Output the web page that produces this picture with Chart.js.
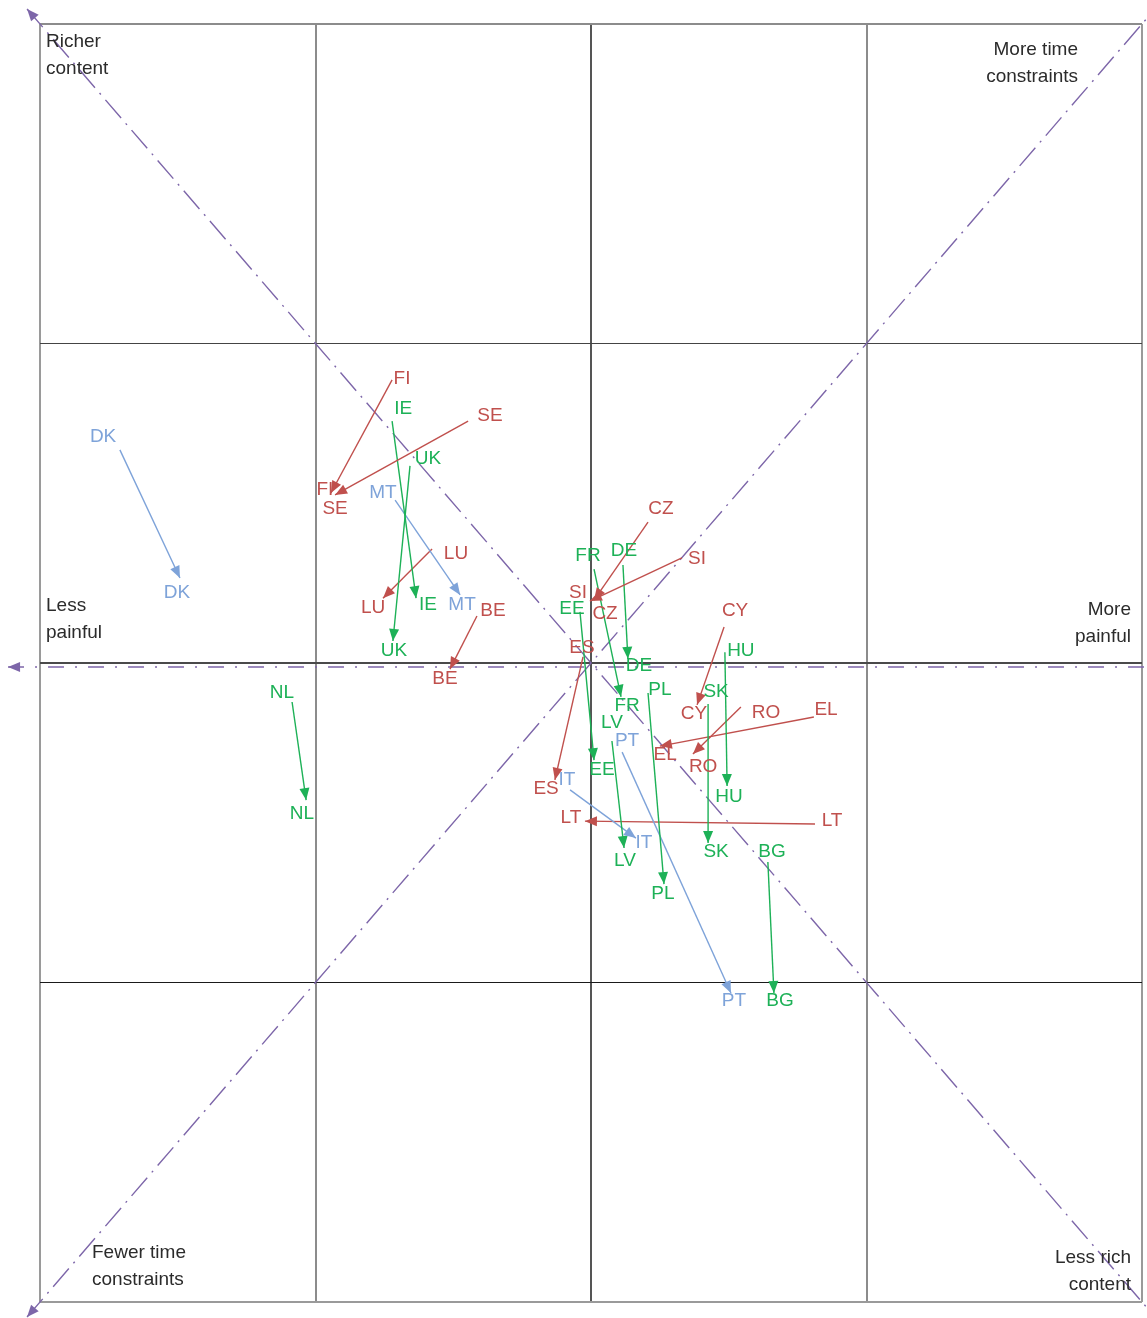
<!DOCTYPE html>
<html><head><meta charset="utf-8">
<style>html,body{margin:0;padding:0;background:#fff;}#wrap{width:1147px;height:1318px;position:relative;}</style>
<script src="https://cdn.jsdelivr.net/npm/chart.js@4.4.0/dist/chart.umd.min.js"></script>
</head><body><div id="wrap"><canvas id="c"></canvas></div>
<script>
// ---- data ----
const countries = ['DK','FI','SE','IE','UK','MT','LU','BE','CZ','SI','FR','DE','EE','ES','CY','HU','SK','PL','RO','EL','LV','PT','IT','LT','BG','NL'];
const groups    = ['B','R','R','G','G','B','R','R','R','R','G','G','G','R','R','G','G','G','R','R','G','B','B','R','G','G'];
const startX = [-1.710,-0.722,-0.446,-0.722,-0.657,-0.711,-0.577,-0.414,0.207,0.330,0.011,0.116,-0.040,-0.029,0.483,0.486,0.425,0.207,0.544,0.809,0.076,0.113,-0.076,0.813,0.642,-1.085];
const startY = [0.667,0.886,0.757,0.757,0.617,0.510,0.357,0.147,0.441,0.329,0.294,0.307,0.160,0.019,0.113,0.034,-0.128,-0.094,-0.138,-0.169,-0.244,-0.279,-0.397,-0.504,-0.623,-0.122];
const endX   = [-1.492,-0.944,-0.929,-0.635,-0.719,-0.475,-0.755,-0.512,0.011,-0.004,0.109,0.134,0.011,-0.131,0.385,0.494,0.425,0.265,0.370,0.250,0.120,0.508,0.163,-0.022,0.664,-1.034];
const endY   = [0.266,0.532,0.526,0.203,0.069,0.213,0.203,-0.019,0.197,0.194,-0.106,0.013,-0.304,-0.366,-0.131,-0.385,-0.563,-0.692,-0.285,-0.260,-0.579,-1.033,-0.548,-0.495,-1.033,-0.429];
const startLabelX = [-1.771,-0.686,-0.367,-0.682,-0.592,-0.755,-0.490,-0.356,0.254,0.385,-0.011,0.120,-0.069,-0.033,0.523,0.544,0.454,0.250,0.635,0.853,0.076,0.131,-0.087,0.875,0.657,-1.122];
const startLabelY = [0.707,0.889,0.773,0.795,0.638,0.532,0.341,0.163,0.482,0.326,0.335,0.351,0.169,0.047,0.163,0.038,-0.091,-0.085,-0.156,-0.147,-0.188,-0.244,-0.366,-0.495,-0.592,-0.094];
const endLabelX = [-1.503,-0.966,-0.929,-0.592,-0.715,-0.468,-0.791,-0.530,0.051,-0.047,0.131,0.174,0.040,-0.163,0.374,0.501,0.454,0.261,0.407,0.269,0.123,0.519,0.192,-0.073,0.686,-1.049];
const endLabelY = [0.219,0.541,0.482,0.182,0.038,0.182,0.172,-0.050,0.153,0.219,-0.135,-0.009,-0.335,-0.394,-0.160,-0.419,-0.592,-0.723,-0.326,-0.288,-0.620,-1.058,-0.563,-0.485,-1.058,-0.473];
// reference (dash-dot) axes, arrow at first point
const diagDown = [[-2.047,2.047],[2.02,-2.02]];
const diagUp   = [[-2.047,-2.047],[2.02,2.02]];
const axisH    = [[-2.116,-0.0125],[2.02,-0.0125]];
const gridTicks = [-2,-1,0,1,2];

// ---- styles ----
const groupColor = {R:'#c0504d', G:'#1db157', B:'#7ea3d9'};
const purple = '#7d66a9';
const FONT = '"Liberation Sans", Arial, Helvetica, sans-serif';

const datasets = [];
countries.forEach((c,i)=>{
  datasets.push({
    label:c, data:[{x:startX[i],y:startY[i]},{x:endX[i],y:endY[i]}],
    showLine:true, borderColor:groupColor[groups[i]], backgroundColor:groupColor[groups[i]],
    borderWidth:1.4, pointRadius:0, tension:0, clip:false, order:0,
    arrow:'end', arrowLen:12, arrowWidth:5
  });
});
[[diagDown,[24,7,2,7]],[diagUp,[24,7,2,7]],[axisH,[16,11,2,11]]].forEach(([pts,dash])=>{
  datasets.push({
    label:'ref', data:pts.map(p=>({x:p[0],y:p[1]})), showLine:true,
    borderColor:purple, borderWidth:1.4, borderDash:dash, pointRadius:0, tension:0,
    clip:false, order:10, arrow:'start', arrowLen:12, arrowWidth:5
  });
});

const arrowPlugin = {
  id:'arrows',
  afterDatasetsDraw(chart){
    const ctx = chart.ctx;
    chart.data.datasets.forEach((ds,i)=>{
      if(!ds.arrow) return;
      const pts = chart.getDatasetMeta(i).data;
      let tip, from;
      if(ds.arrow==='end'){tip=pts[pts.length-1];from=pts[0];} else {tip=pts[0];from=pts[pts.length-1];}
      const a = Math.atan2(tip.y-from.y, tip.x-from.x);
      const L = ds.arrowLen, W = ds.arrowWidth;
      const bx = tip.x-L*Math.cos(a), by = tip.y-L*Math.sin(a);
      ctx.save();
      ctx.fillStyle = ds.borderColor;
      ctx.beginPath();
      ctx.moveTo(tip.x,tip.y);
      ctx.lineTo(bx+W*Math.sin(a), by-W*Math.cos(a));
      ctx.lineTo(bx-W*Math.sin(a), by+W*Math.cos(a));
      ctx.closePath(); ctx.fill();
      ctx.restore();
    });
  }
};

const labelPlugin = {
  id:'countryLabels',
  afterDatasetsDraw(chart){
    const ctx = chart.ctx, xs = chart.scales.x, ys = chart.scales.y;
    ctx.save();
    ctx.font = '19px '+FONT;
    ctx.textAlign = 'center'; ctx.textBaseline = 'middle';
    countries.forEach((c,i)=>{
      ctx.fillStyle = groupColor[groups[i]];
      ctx.fillText(c, xs.getPixelForValue(startLabelX[i]), ys.getPixelForValue(startLabelY[i]));
      ctx.fillText(c, xs.getPixelForValue(endLabelX[i]), ys.getPixelForValue(endLabelY[i]));
    });
    ctx.restore();
  }
};

const cornerPlugin = {
  id:'corners',
  afterDatasetsDraw(chart){
    const ctx = chart.ctx, a = chart.chartArea;
    const midY = chart.scales.y.getPixelForValue(0);
    ctx.save();
    ctx.font = '19px '+FONT; ctx.fillStyle = '#2b2b2b'; ctx.textBaseline = 'middle';
    const put = (lines, x, y, align) => { ctx.textAlign = align; lines.forEach((t,k)=>ctx.fillText(t, x, y+k*27)); };
    put(['Richer','content'], a.left+6, a.top+18, 'left');
    put(['More time','constraints'], a.right-64, a.top+26, 'right');
    put(['Less','painful'], a.left+6, midY-57, 'left');
    put(['More','painful'], a.right-11, midY-53, 'right');
    put(['Fewer time','constraints'], a.left+52, a.bottom-49, 'left');
    put(['Less rich','content'], a.right-11, a.bottom-44, 'right');
    ctx.restore();
  }
};

const xGrid = {
  color: c => { const v=c.tick.value; return v===0?'#555':(Math.abs(v)===2?'#9a9a9a':'#8c8c8c'); },
  lineWidth: c => 2, drawTicks:false
};
const yGrid = {
  color: c => { const v=c.tick.value; return v===0?'#4a4a4a':(v===2?'#8c8c8c':(v===-2?'#9a9a9a':(v===1?'#444':'#1a1a1a'))); },
  lineWidth: c => { const v=c.tick.value; return (v===1||v===-1)?1:2; }, drawTicks:false
};

new Chart(document.getElementById('c'), {
  type:'scatter',
  data:{datasets},
  options:{
    responsive:true, maintainAspectRatio:false, animation:false,
    layout:{padding:{left:40, top:24, right:5, bottom:16}},
    plugins:{legend:{display:false}, tooltip:{enabled:false}},
    scales:{
      x:{type:'linear', min:-2, max:2, afterBuildTicks:s=>{s.ticks=gridTicks.map(v=>({value:v}));},
         ticks:{display:false}, grid:xGrid, border:{display:false}, afterFit:s=>{s.height=0;}},
      y:{type:'linear', min:-2, max:2, afterBuildTicks:s=>{s.ticks=gridTicks.map(v=>({value:v}));},
         ticks:{display:false}, grid:yGrid, border:{display:false}, afterFit:s=>{s.width=0;}}
    }
  },
  plugins:[arrowPlugin, labelPlugin, cornerPlugin]
});
</script></body></html>
